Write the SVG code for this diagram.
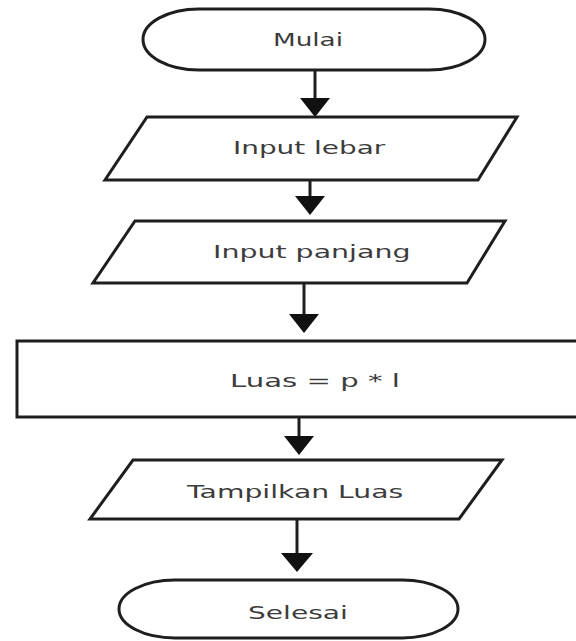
<svg xmlns="http://www.w3.org/2000/svg" width="576" height="641" viewBox="0 0 576 641">
<style>
.shape{fill:#fff;stroke:#1e1e1e;stroke-width:3}
.lbl{font-family:"DejaVu Sans","Liberation Sans",sans-serif;font-size:18px;fill:#3c3c3c;text-anchor:start}
.conn{stroke:#1e1e1e;stroke-width:3;fill:none}
.head{fill:#111;stroke:none}
</style>
<rect width="576" height="641" fill="#fff"/>
<g id="connectors">
<line class="conn" x1="315" y1="70" x2="315" y2="100"/>
<polygon class="head" points="300,98 330,98 315,117"/>
<line class="conn" x1="310" y1="180" x2="310" y2="198"/>
<polygon class="head" points="295,196 325,196 310,215"/>
<line class="conn" x1="304" y1="283" x2="304" y2="316"/>
<polygon class="head" points="289,314 319,314 304,333"/>
<line class="conn" x1="299" y1="417" x2="299" y2="438"/>
<polygon class="head" points="284,436 314,436 299,455"/>
<line class="conn" x1="297" y1="519" x2="297" y2="555"/>
<polygon class="head" points="281,553 313,553 297,572"/>
</g>
<g id="mulai">
<rect class="shape" x="143" y="9" width="342" height="61" rx="56" ry="30.5"/>
<text class="lbl" transform="translate(273,46) scale(1.46,1)">Mulai</text>
</g>
<g id="input-lebar">
<polygon class="shape" points="147,117 517,117 478,180 105,180"/>
<text class="lbl" transform="translate(233,154) scale(1.55,1)">Input lebar</text>
</g>
<g id="input-panjang">
<polygon class="shape" points="135,221 505,221 467,283 93,283"/>
<text class="lbl" transform="translate(213,258) scale(1.58,1)">Input panjang</text>
</g>
<g id="proses-luas">
<rect class="shape" x="17" y="341" width="565" height="76"/>
<text class="lbl" transform="translate(230,387) scale(1.62,1)">Luas = p * l</text>
</g>
<g id="tampilkan-luas">
<polygon class="shape" points="133,460 502,460 459,519 90,519"/>
<text class="lbl" transform="translate(187,498) scale(1.57,1)">Tampilkan Luas</text>
</g>
<g id="selesai">
<rect class="shape" x="119" y="580" width="339" height="58" rx="56" ry="29"/>
<text class="lbl" transform="translate(248,619) scale(1.56,1)">Selesai</text>
</g>
</svg>
